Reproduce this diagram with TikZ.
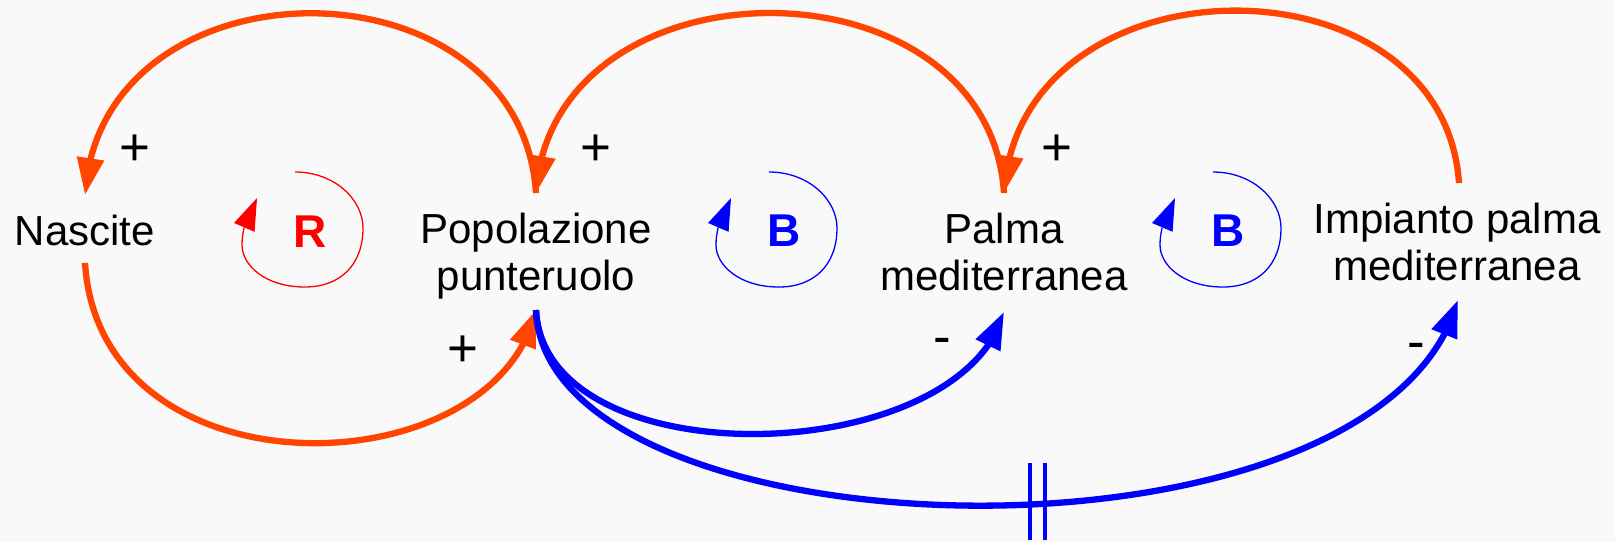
\documentclass[tikz,border=0pt]{standalone}
\usepackage{fontspec}
\setmainfont{Liberation Sans}
\usetikzlibrary{arrows.meta,bending}
\definecolor{cldorange}{RGB}{255,69,0}
\definecolor{cldblue}{RGB}{0,0,255}
\definecolor{cldred}{RGB}{255,0,0}
\definecolor{bgcol}{RGB}{249,249,249}
\tikzset{
  lbl/.style={font=\fontsize{42}{47}\selectfont, inner sep=0pt, anchor=base},
  sgn/.style={font=\fontsize{53}{60}\selectfont, inner sep=0pt},
  loopltr/.style={font=\fontsize{46}{50}\selectfont\bfseries, inner sep=0pt},
  link/.style={line width=6.3pt, -{Triangle[length=37pt,width=26pt]}},
  poslink/.style={link, color=cldorange},
  neglink/.style={link, color=cldblue},
  loopline/.style={line width=1.3pt, -{Triangle[length=32pt,width=22pt]}},
  delaymark/.style={draw=cldblue, line width=3.8pt},
  cldloop/.pic={
    \draw[loopline] (0,0) .. controls (40,0) and (68,28) .. (68,56)
      .. controls (68,93) and (45,115) .. (10,115)
      .. controls (-30,115) and (-53,93) .. (-53,73)
      .. controls (-53,53) and (-45,40) .. (-38,26);
  }
}
\begin{document}
\begin{tikzpicture}[x=1pt,y=-1pt]
\fill[bgcol] (0,0) rectangle (1615,542);
\useasboundingbox (0,0) rectangle (1615,542);

% variables
\node[lbl] (nas) at (85,245) {Nascite};
\node[lbl] (pop) at (536,243) {\begin{tabular}[t]{@{}c@{}}Popolazione\\punteruolo\end{tabular}};
\node[lbl] (pal) at (1004,243) {\begin{tabular}[t]{@{}c@{}}Palma\\mediterranea\end{tabular}};
\node[lbl] (imp) at (1457,233) {\begin{tabular}[t]{@{}c@{}}Impianto palma\\mediterranea\end{tabular}};

% connection points
\coordinate (nasT) at (85,195);
\coordinate (nasB) at (85,263);
\coordinate (popT) at (536,193);
\coordinate (popB) at (536,310);
\coordinate (palT) at (1004,193);
\coordinate (palB) at (1004,312);
\coordinate (impT) at (1459,183);
\coordinate (impB) at (1458,300);

% positive links
\draw[poslink] (popT) .. controls (520,-47) and (100,-47) .. (nasT);
\draw[poslink] (palT) .. controls (988,-47) and (552,-47) .. (popT);
\draw[poslink] (impT) .. controls (1443,-50) and (1019,-47) .. (palT);
\draw[poslink] (nasB) .. controls (100,500) and (495,490) .. (popB);

% negative links
\draw[neglink] (popB) .. controls (545,480) and (960,470) .. (palB);
\draw[neglink] (popB) .. controls (545,560) and (1380,585) .. (impB);

% delay mark
\draw[delaymark] (1030,463) -- (1030,540);
\draw[delaymark] (1045,463) -- (1045,540);

% polarity signs
\node[sgn] (s1) at (135,150) {+};
\node[sgn] (s2) at (596,150) {+};
\node[sgn] (s3) at (1057,150) {+};
\node[sgn] (s4) at (463,351) {+};
\node[sgn] (s5) at (942,346) {-};
\node[sgn] (s6) at (1416,351) {-};

% loop markers
\pic[cldred] (l1) at (295,172) {cldloop};
\node[loopltr, text=cldred] (r1) at (310,232) {R};
\pic[cldblue] (l2) at (769,172) {cldloop};
\node[loopltr, text=cldblue] (b1) at (784,231) {B};
\pic[cldblue] (l3) at (1213,172) {cldloop};
\node[loopltr, text=cldblue] (b2) at (1228,231) {B};
\end{tikzpicture}
\end{document}
